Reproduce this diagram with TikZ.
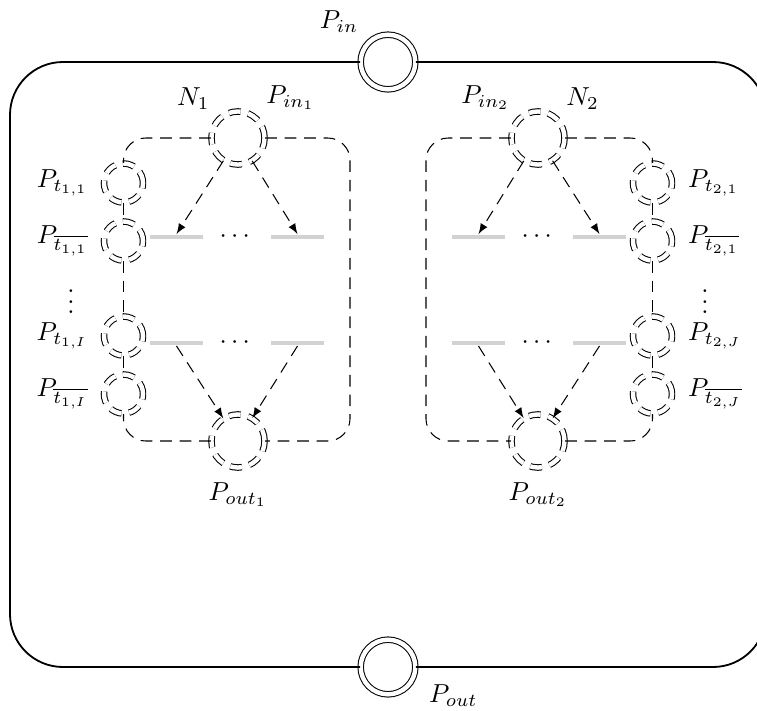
\documentclass[tikz,border=0pt]{standalone}
\usepackage{amssymb}
\usepackage{amsmath}
\usetikzlibrary{arrows,calc}

\tikzset{
  port/.style={circle,draw,double,double distance=1.7pt,inner sep=0pt,minimum size=21pt},
  place/.style={port,dash pattern=on 4.5pt off 3pt,minimum size=20.4pt},
  tplace/.style={place,minimum size=15pt},
  trans/.style={fill=gray!35,inner sep=0pt,minimum width=20.4pt,minimum height=1.9pt},
  netbox/.style={dash pattern=on 4.5pt off 3pt,rounded corners=0.3cm},
  flow/.style={->,>=latex,dash pattern=on 4.5pt off 3pt},
  frame/.style={line width=0.7pt,rounded corners=0.715cm},
  ll/.style={label distance=2.5pt}
}

\begin{document}
\begin{tikzpicture}[x=0.0135cm,y=-0.0135cm]
  \useasboundingbox (0,0) rectangle (757,711);
  \clip (0,0) rectangle (757,711);

  % global ports
  \node[port,label={[label distance=0.5pt]above left:$P_{in}$}] (Pin) at (388,62) {};
  \node[port,label={[anchor=north west,label distance=2pt]-15:$P_{out}$}] (Pout) at (388,667) {};
  \coordinate (fnw) at (10,62);
  \coordinate (fsw) at (10,667);
  \coordinate (fne) at (766,62);
  \coordinate (fse) at (766,667);
  \draw[frame] (Pin) -- (fnw) -- (fsw) -- (Pout);
  \draw[frame] (Pin) -- (fne) -- (fse) -- (Pout);

  % net N1
  \node[place,label={above left:$N_1$},label={above right:$P_{in_1}$}] (Pin1) at (238,138) {};
  \node[place,label={[label distance=2pt]below:$P_{out_1}$}] (Pout1) at (238,441) {};
  \node[tplace,label={[ll]left:$P_{t_{1,1}}$}] (Pt11) at (123.5,183) {};
  \node[tplace,label={[ll]left:$P_{\overline{t_{1,1}}}$}] (Ptb11) at (123.5,241) {};
  \node[tplace,label={[ll]left:$P_{t_{1,I}}$}] (Pt1I) at (123.5,336) {};
  \node[tplace,label={[ll]left:$P_{\overline{t_{1,I}}}$}] (Ptb1I) at (123.5,394) {};
  \node (vd1) at (71,294) {$\vdots$};
  \node[trans] (t11a) at (176.5,237) {};
  \node[trans] (t11b) at (297.5,237) {};
  \node (d11) at (237,237) {$\cdots$};
  \node[trans] (t12a) at (176.5,343) {};
  \node[trans] (t12b) at (297.5,343) {};
  \node (d12) at (237,343) {$\cdots$};
  \coordinate (nw1) at (123.5,138);
  \coordinate (ne1) at (350,138);
  \coordinate (sw1) at (123.5,441);
  \coordinate (se1) at (350,441);
  \draw[netbox] (Pin1) -- (ne1) -- (se1) -- (Pout1);
  \draw[netbox] (Pin1) -- (nw1) -- (Pt11);
  \draw[netbox] (Pout1) -- (sw1) -- (Ptb1I);
  \draw[netbox] (Pt11) -- (Ptb11) -- (Pt1I) -- (Ptb1I);
  \path[flow]
    (Pin1) edge (t11a.north)
    (Pin1) edge (t11b.north)
    (t12a.south) edge (Pout1)
    (t12b.south) edge (Pout1);

  % net N2
  \node[place,label={above left:$P_{in_2}$},label={above right:$N_2$}] (Pin2) at (538,138) {};
  \node[place,label={[label distance=2pt]below:$P_{out_2}$}] (Pout2) at (538,441) {};
  \node[tplace,label={[ll]right:$P_{t_{2,1}}$}] (Pt21) at (652.5,183) {};
  \node[tplace,label={[ll]right:$P_{\overline{t_{2,1}}}$}] (Ptb21) at (652.5,241) {};
  \node[tplace,label={[ll]right:$P_{t_{2,J}}$}] (Pt2J) at (652.5,336) {};
  \node[tplace,label={[ll]right:$P_{\overline{t_{2,J}}}$}] (Ptb2J) at (652.5,394) {};
  \node (vd2) at (705,294) {$\vdots$};
  \node[trans] (t21a) at (478.5,237) {};
  \node[trans] (t21b) at (599.5,237) {};
  \node (d21) at (539,237) {$\cdots$};
  \node[trans] (t22a) at (478.5,343) {};
  \node[trans] (t22b) at (599.5,343) {};
  \node (d22) at (539,343) {$\cdots$};
  \coordinate (nw2) at (426,138);
  \coordinate (ne2) at (652.5,138);
  \coordinate (sw2) at (426,441);
  \coordinate (se2) at (652.5,441);
  \draw[netbox] (Pin2) -- (nw2) -- (sw2) -- (Pout2);
  \draw[netbox] (Pin2) -- (ne2) -- (Pt21);
  \draw[netbox] (Pout2) -- (se2) -- (Ptb2J);
  \draw[netbox] (Pt21) -- (Ptb21) -- (Pt2J) -- (Ptb2J);
  \path[flow]
    (Pin2) edge (t21a.north)
    (Pin2) edge (t21b.north)
    (t22a.south) edge (Pout2)
    (t22b.south) edge (Pout2);
\end{tikzpicture}
\end{document}
